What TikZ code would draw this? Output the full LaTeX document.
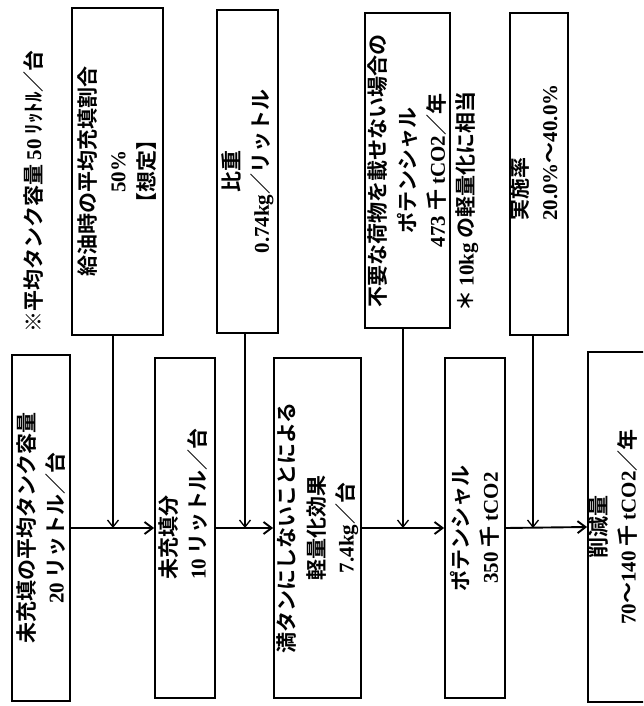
\documentclass[tikz,border=0pt]{standalone}
\usepackage{fontspec}
\setmainfont{Noto Sans CJK JP}[BoldFont=* Bold]
\newfontfamily\latf{Liberation Serif}
\usetikzlibrary{arrows.meta}
\newcommand\nm[1]{{\latf #1}}
\begin{document}
\begin{tikzpicture}[x=1pt,y=-1pt,
  every node/.style={font=\bfseries\fontsize{21}{29.5}\selectfont, inner sep=0pt},
  box/.style={draw, line width=1.8pt, rotate=90, align=center},
  txt/.style={rotate=90, align=left},
  feed/.style={line width=1.3pt, -{Straight Barb[length=7pt,width=11pt]}},
  flow/.style={line width=1.9pt, -{Straight Barb[length=8pt,width=12pt]}}]
\useasboundingbox (0,0) rectangle (643,706);
\clip (0,0) rectangle (643,706);
% top row
\node[box, minimum width=327pt, minimum height=91pt] (b1) at (117.5,171.5)
  {給油時の平均充填割合\\\nm{50\%}\\【想定】};
\node[box, minimum width=323pt, minimum height=61pt] (b2) at (247.5,171.5)
  {比重\\\nm{0.74kg}／リットル};
\node[box, minimum width=315pt, minimum height=85pt] (b3) at (407.5,170.5)
  {不要な荷物を載せない場合の\\ポテンシャル\\\nm{473} 千 \nm{tCO2}／年};
\node[box, minimum width=322pt, minimum height=58pt] (b4) at (539,174) {};
\node[txt, anchor=west] (b4t) at (533.5,221) {実施率\\\nm{20.0\%}～\nm{40.0\%}};
% notes
\node[txt, anchor=west] (note) at (33,333) {※平均タンク容量 \nm{50} ﾘｯﾄﾙ／台};
\node[txt, anchor=west] (n10) at (467,312) {＊ \nm{10kg} の軽量化に相当};
% bottom row
\node[box, minimum width=346pt, minimum height=58pt] (c1) at (41,528)
  {未充填の平均タンク容量\\\nm{20} リットル／台};
\node[box, minimum width=340pt, minimum height=60pt] (c2) at (185,528) {};
\node[txt, anchor=west] (c2t) at (183,580) {未充填分\\\nm{10} リットル／台};
\node[box, minimum width=340pt, minimum height=87pt] (c3) at (317.5,528)
  {満タンにしないことによる\\軽量化効果\\\nm{7.4kg}／台};
\node[box, minimum width=340pt, minimum height=60pt] (c4) at (475,528)
  {ポテンシャル\\\nm{350} 千 \nm{tCO2}};
\node[box, minimum width=350pt, minimum height=60pt] (c5) at (618,527) {};
\node[txt, align=center] (c5t) at (613,527) {削減量\\\nm{70}～\nm{140} 千 \nm{tCO2}／年};
% flow arrows
\draw[flow] (c1.south) -- (c2.north);
\draw[flow] (c2.south) -- (c3.north);
\draw[flow] (c3.south) -- (c4.north);
\draw[flow] (c4.south) -- (c5.north);
% feed arrows
\coordinate (f1) at ([xshift=-4.5pt]b1.west);
\coordinate (f2) at ([xshift=-2.5pt]b2.west);
\coordinate (f3) at ([xshift=-4.5pt]b3.west);
\coordinate (f4) at ([xshift=-6pt]b4.west);
\draw[feed] (f1) -- (f1 |- c1.south);
\draw[feed] (f2) -- (f2 |- c2.south);
\draw[feed] (f3) -- (f3 |- c3.south);
\draw[feed] (f4) -- (f4 |- c4.south);
\end{tikzpicture}
\end{document}
